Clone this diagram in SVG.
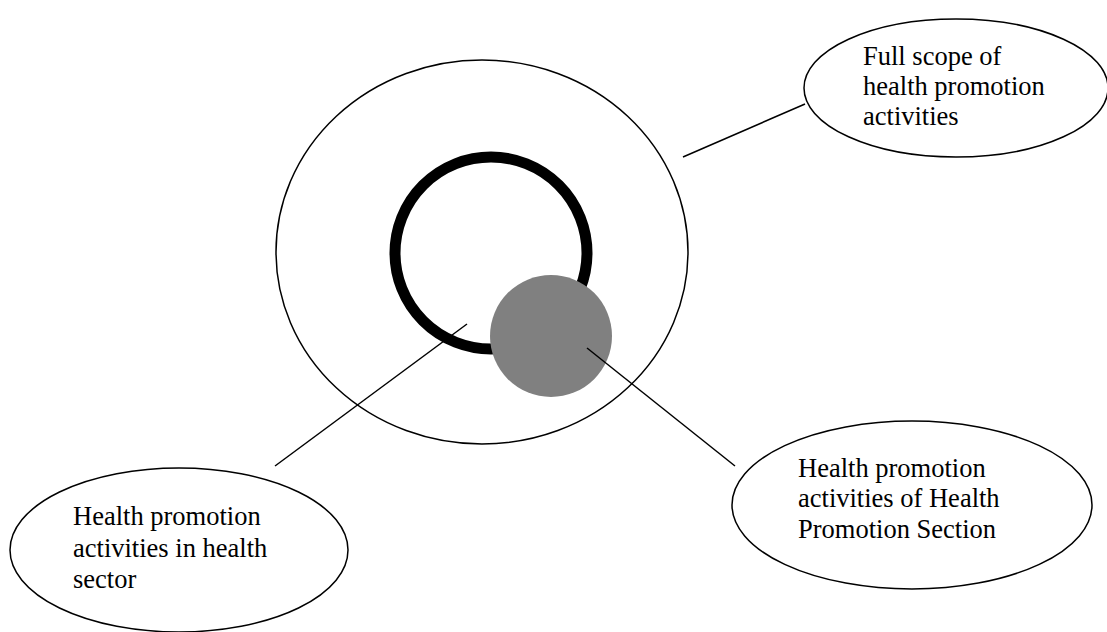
<svg xmlns="http://www.w3.org/2000/svg" width="1107" height="632" viewBox="0 0 1107 632">
<style>
.lbl{fill:#fff;stroke:#000;stroke-width:1.5}
.t{font-family:"Liberation Serif","Times New Roman",serif;font-size:26.5px;fill:#000}
.ln{stroke:#000;stroke-width:1.5;fill:none}
</style>
<rect width="1107" height="632" fill="#fff"/>
<g id="scope">
<ellipse cx="482" cy="252" rx="206" ry="192" fill="#fff" stroke="#000" stroke-width="1.5"/>
</g>
<g id="sector">
<circle cx="491" cy="253" r="96" fill="none" stroke="#000" stroke-width="11"/>
</g>
<g id="section">
<circle cx="551" cy="336" r="61" fill="#808080"/>
</g>
<g id="connectors">
<line class="ln" x1="683" y1="157" x2="805" y2="104"/>
<line class="ln" x1="467" y1="324" x2="275" y2="466"/>
<line class="ln" x1="587" y1="348" x2="735" y2="466"/>
</g>
<g id="label-scope">
<ellipse class="lbl" cx="956" cy="88" rx="152" ry="69"/>
<text class="t" x="863" y="65">Full scope of</text>
<text class="t" x="863" y="95">health promotion</text>
<text class="t" x="863" y="125">activities</text>
</g>
<g id="label-sector">
<ellipse class="lbl" cx="179" cy="550" rx="169" ry="82"/>
<text class="t" x="73" y="525">Health promotion</text>
<text class="t" x="73" y="557">activities in health</text>
<text class="t" x="73" y="588">sector</text>
</g>
<g id="label-section">
<ellipse class="lbl" cx="912" cy="505" rx="180" ry="84"/>
<text class="t" x="798" y="477">Health promotion</text>
<text class="t" x="798" y="507">activities of Health</text>
<text class="t" x="798" y="538">Promotion Section</text>
</g>
</svg>
